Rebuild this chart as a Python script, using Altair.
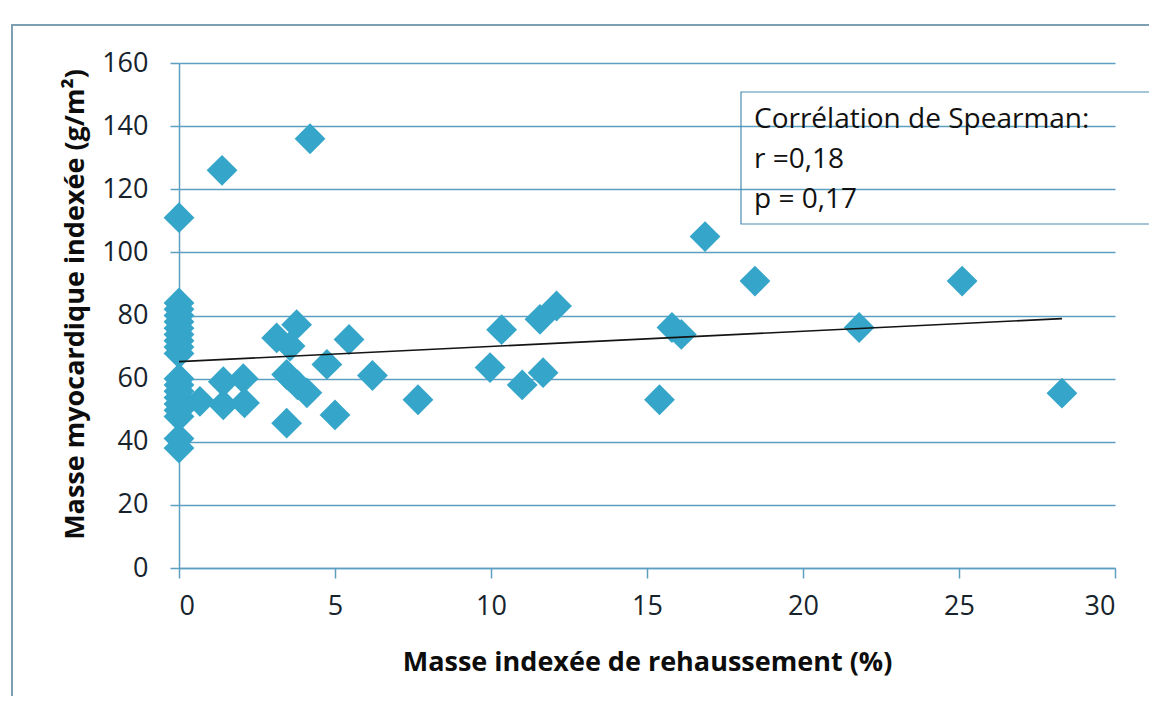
import altair as alt
import pandas as pd

# Scatter data: enhancement indexed mass (%) vs indexed myocardial mass (g/m²)
x_values = [
    0, 0, 0, 0, 0, 0, 0, 0, 0, 0,
    0, 0, 0, 0, 0, 0, 0, 0, 0,
    0.67, 1.38, 1.42, 2.06, 1.42, 2.1,
    3.13, 3.56, 3.77, 3.45, 3.8, 4.1, 3.45,
    4.2, 4.74, 5.0, 5.45, 6.2, 7.66,
    9.97, 10.34, 11.0, 11.67, 11.57, 12.1,
    15.4, 15.8, 16.1, 16.86, 18.46,
    21.8, 25.1, 28.3,
]
y_values = [
    111, 84, 82, 80, 78, 76, 74, 72, 70, 68,
    60, 58, 56, 54, 52, 50, 48, 41, 38,
    52.8, 126, 59, 60, 51.7, 52.3,
    72.9, 70.3, 77.1, 61.3, 58, 55.5, 45.9,
    136, 64.5, 48.5, 72.4, 61, 53.3,
    63.5, 75.5, 58, 61.9, 78.8, 83,
    53.3, 76.2, 74, 105, 90.9,
    76.2, 90.9, 55.4,
]

# Linear trend line as drawn in the picture
trend_x = [0, 28.3]
trend_y = [65.4, 79.0]

x_ticks = [0, 5, 10, 15, 20, 25, 30]
y_ticks = [0, 20, 40, 60, 80, 100, 120, 140, 160]

x_title = "Masse indexée de rehaussement (%)"
y_title = "Masse myocardique indexée (g/m²)"
annotation_lines = ["Corrélation de Spearman:", "r =0,18", "p = 0,17"]

points = pd.DataFrame({"x": x_values, "y": y_values})
trend = pd.DataFrame({"x": trend_x, "y": trend_y})
one = pd.DataFrame({"k": [0]})

GRID = "#5c9fc1"
POINT = "#35a5c9"
FONT = "Open Sans"

x_scale = alt.Scale(domain=[0, 30], nice=False, zero=True)
y_scale = alt.Scale(domain=[0, 160], nice=False)

x_axis = alt.Axis(
    values=x_ticks, grid=False, domainColor=GRID, domainWidth=1.5,
    tickColor=GRID, tickSize=10, tickWidth=1.5,
    labelFont=FONT, labelFontSize=27, labelColor="#16232c", labelPadding=15,
    title=x_title, titleFont=FONT, titleFontSize=27, titleFontWeight="bold",
    titleColor="#0d0d0d", titleY=94, titleBaseline="middle",
)
y_axis = alt.Axis(
    values=y_ticks, grid=True, gridColor=GRID, gridWidth=1.5,
    domainColor=GRID, domainWidth=1.5,
    tickColor=GRID, tickSize=9, tickWidth=1.5,
    labelFont=FONT, labelFontSize=27, labelColor="#16232c", labelPadding=22,
    title=y_title, titleFont=FONT, titleFontSize=27, titleFontWeight="bold",
    titleColor="#0d0d0d", titleX=-104, titleY=241, titleAngle=-90,
    titleBaseline="middle", titleAlign="center",
)

# Outer frame (decorative)
frame = alt.Chart(one).mark_rect(fill=None, stroke="#7d9fb2", strokeWidth=2).encode(
    x=alt.value(-167), x2=alt.value(1000), y=alt.value(-38), y2=alt.value(760)
)

scatter = alt.Chart(points).mark_point(
    shape="diamond", filled=True, size=950, color=POINT, opacity=1
).encode(
    x=alt.X("x:Q", scale=x_scale, axis=x_axis),
    y=alt.Y("y:Q", scale=y_scale, axis=y_axis),
)

line = alt.Chart(trend).mark_line(color="#141414", strokeWidth=1.6).encode(
    x=alt.X("x:Q", scale=x_scale),
    y=alt.Y("y:Q", scale=y_scale),
)

box = alt.Chart(one).mark_rect(fill=None, stroke="#4a8db2", strokeWidth=1.2).encode(
    x=alt.value(562), x2=alt.value(1000), y=alt.value(29), y2=alt.value(161)
)

texts = []
for i, t in enumerate(annotation_lines):
    texts.append(
        alt.Chart(one).mark_text(
            text=t, align="left", baseline="alphabetic", font=FONT,
            fontSize=28, color="#111111",
        ).encode(x=alt.value(575), y=alt.value(65 + 40 * i))
    )

chart = alt.layer(frame, scatter, line, box, *texts).properties(
    width=936, height=505,
    autosize=alt.AutoSizeParams(type="none"),
    padding={"left": 171, "top": 55, "right": 34, "bottom": 128},
    background="white",
).configure_view(stroke=None)

chart.save("out.html", embed_options={"renderer": "svg", "actions": False})
